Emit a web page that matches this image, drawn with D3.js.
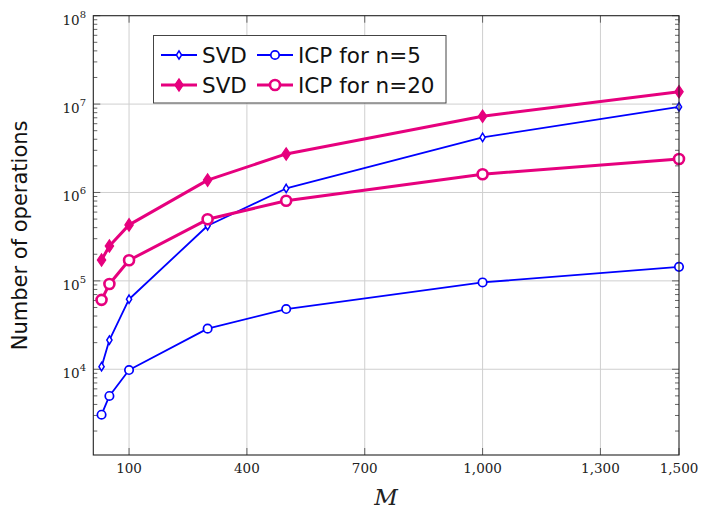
<!DOCTYPE html>
<html>
<head>
<meta charset="utf-8">
<script src="https://cdn.jsdelivr.net/npm/d3@7"></script>
<style>
  html, body { margin: 0; padding: 0; background: #fff; }
  svg { display: block; }
  .tick-label { font-family: "DejaVu Serif", "Liberation Serif", serif; font-size: 13.5px; fill: #222; }
  .sans { font-family: "DejaVu Sans", "Noto Sans", sans-serif; }
</style>
</head>
<body>
<svg id="chart" width="702" height="513"></svg>
<script>
// Problem sizes M
const sizes = [30, 50, 100, 300, 500, 1000, 1500];

// Operation counts per method
const svdN5  = [1.07e4, 2.14e4, 6.2e4, 4.2e5, 1.11e6, 4.2e6, 9.3e6];
const icpN5  = [3.06e3, 4.99e3, 9.8e3, 2.88e4, 4.8e4, 9.6e4, 1.44e5];
const svdN20 = [1.72e5, 2.48e5, 4.3e5, 1.38e6, 2.73e6, 7.3e6, 1.38e7];
const icpN20 = [6.1e4, 9.2e4, 1.71e5, 4.97e5, 8.07e5, 1.61e6, 2.39e6];

// Axis ticks
const xTicks = [100, 400, 700, 1000, 1300, 1500];
const xGrid = [100, 400, 700, 1000, 1300];
const yExponents = [4, 5, 6, 7, 8];

const legendRows = [
  [{ label: "SVD", key: "svd5" }, { label: "ICP for n=5", key: "icp5" }],
  [{ label: "SVD", key: "svd20" }, { label: "ICP for n=20", key: "icp20" }]
];

const BLUE = "#0000ff";
const MAGENTA = "#e6007e";

const styles = {
  svd5:  { color: BLUE,    width: 1.8, marker: "diamond", filled: false, mw: 2.6, mh: 4.2, mstroke: 1.5 },
  icp5:  { color: BLUE,    width: 1.8, marker: "circle",  filled: false, r: 4.2, mstroke: 1.7 },
  svd20: { color: MAGENTA, width: 3,   marker: "diamond", filled: true,  mw: 4.2, mh: 6.2, mstroke: 1.2 },
  icp20: { color: MAGENTA, width: 3,   marker: "circle",  filled: false, r: 5, mstroke: 2.6 }
};

const series = [
  { key: "svd5",  values: svdN5 },
  { key: "icp5",  values: icpN5 },
  { key: "svd20", values: svdN20 },
  { key: "icp20", values: icpN20 }
];

const plotL = 93.3, plotR = 679, plotT = 15.7, plotB = 455;

const x = d3.scaleLinear().domain([9, 1500]).range([plotL, plotR]);
const y = d3.scaleLog().domain([Math.pow(10, 3.03), 1e8]).range([plotB, plotT]);

const svg = d3.select("#chart");

// grid
const grid = svg.append("g").attr("stroke", "#cfcfcf").attr("stroke-width", 1);
grid.selectAll("line.gx").data(xGrid).enter().append("line")
  .attr("x1", d => x(d)).attr("x2", d => x(d))
  .attr("y1", plotT).attr("y2", plotB);
grid.selectAll("line.gy").data(yExponents.filter(e => e < 8)).enter().append("line")
  .attr("x1", plotL).attr("x2", plotR)
  .attr("y1", e => y(Math.pow(10, e))).attr("y2", e => y(Math.pow(10, e)));

// minor log ticks (inward on both sides)
const minor = [];
for (let e = 3; e < 8; e++) {
  for (let m = 2; m <= 9; m++) {
    const v = m * Math.pow(10, e);
    if (v >= y.domain()[0] && v <= 1e8) minor.push(v);
  }
}
const tickG = svg.append("g").attr("stroke", "#555").attr("stroke-width", 0.9);
minor.forEach(v => {
  tickG.append("line").attr("x1", plotL).attr("x2", plotL + 4).attr("y1", y(v)).attr("y2", y(v));
  tickG.append("line").attr("x1", plotR).attr("x2", plotR - 4).attr("y1", y(v)).attr("y2", y(v));
});
yExponents.forEach(e => {
  const yy = y(Math.pow(10, e));
  tickG.append("line").attr("x1", plotL).attr("x2", plotL + 7).attr("y1", yy).attr("y2", yy);
  tickG.append("line").attr("x1", plotR).attr("x2", plotR - 7).attr("y1", yy).attr("y2", yy);
});
xTicks.forEach(t => {
  tickG.append("line").attr("x1", x(t)).attr("x2", x(t)).attr("y1", plotB).attr("y2", plotB - 7);
  tickG.append("line").attr("x1", x(t)).attr("x2", x(t)).attr("y1", plotT).attr("y2", plotT + 7);
});

// series lines and markers
const line = d3.line().x((d, i) => x(sizes[i])).y(d => y(d));
function drawMarker(g, st, cx, cy) {
  if (st.marker === "diamond") {
    g.append("path")
      .attr("d", `M${cx},${cy - st.mh}L${cx + st.mw},${cy}L${cx},${cy + st.mh}L${cx - st.mw},${cy}Z`)
      .attr("fill", st.filled ? st.color : "#fff")
      .attr("stroke", st.color).attr("stroke-width", st.mstroke);
  } else {
    g.append("circle").attr("cx", cx).attr("cy", cy).attr("r", st.r)
      .attr("fill", st.filled ? st.color : "#fff")
      .attr("stroke", st.color).attr("stroke-width", st.mstroke);
  }
}
series.forEach(s => {
  const st = styles[s.key];
  const g = svg.append("g");
  g.append("path").datum(s.values).attr("d", line)
    .attr("fill", "none").attr("stroke", st.color).attr("stroke-width", st.width)
    .attr("stroke-linejoin", "round");
  s.values.forEach((v, i) => drawMarker(g, st, x(sizes[i]), y(v)));
});

// frame
svg.append("rect").attr("x", plotL).attr("y", plotT)
  .attr("width", plotR - plotL).attr("height", plotB - plotT)
  .attr("fill", "none").attr("stroke", "#222").attr("stroke-width", 1.1);

// x tick labels
const fmt = d3.format(",");
svg.selectAll("text.xl").data(xTicks).enter().append("text")
  .attr("class", "tick-label")
  .attr("x", d => x(d)).attr("y", 473)
  .attr("text-anchor", "middle")
  .text(d => fmt(d));

// y tick labels 10^e
yExponents.forEach(e => {
  const t = svg.append("text").attr("class", "tick-label")
    .attr("x", 86).attr("y", y(Math.pow(10, e)) + 9).attr("text-anchor", "end");
  t.append("tspan").text("10");
  t.append("tspan").attr("dy", -7).attr("font-size", "10px").text(String(e));
});

// axis titles
svg.append("text")
  .attr("x", (plotL + plotR) / 2).attr("y", 505)
  .attr("text-anchor", "middle")
  .attr("font-family", "DejaVu Serif, Liberation Serif, serif")
  .attr("font-style", "italic").attr("font-size", "23px").attr("fill", "#222")
  .text("M");

svg.append("text").attr("class", "sans")
  .attr("transform", `translate(27,${(plotT + plotB) / 2}) rotate(-90)`)
  .attr("text-anchor", "middle").attr("font-size", "21px").attr("fill", "#111")
  .text("Number of operations");

// legend
const lg = svg.append("g");
lg.append("rect").attr("x", 153.5).attr("y", 35.5).attr("width", 292.5).attr("height", 67.5)
  .attr("fill", "#fff").attr("stroke", "#444").attr("stroke-width", 1);
const colX = [161, 257];
const rowY = [55, 85];
legendRows.forEach((row, ri) => {
  row.forEach((item, ci) => {
    const st = styles[item.key];
    const lx = colX[ci], ly = rowY[ri];
    lg.append("line").attr("x1", lx).attr("x2", lx + 36).attr("y1", ly).attr("y2", ly)
      .attr("stroke", st.color).attr("stroke-width", st.width);
    drawMarker(lg, st, lx + 18, ly);
    lg.append("text").attr("class", "sans")
      .attr("x", lx + 41).attr("y", ly + 8)
      .attr("font-size", "21.5px").attr("fill", "#111")
      .text(item.label);
  });
});
</script>
</body>
</html>
